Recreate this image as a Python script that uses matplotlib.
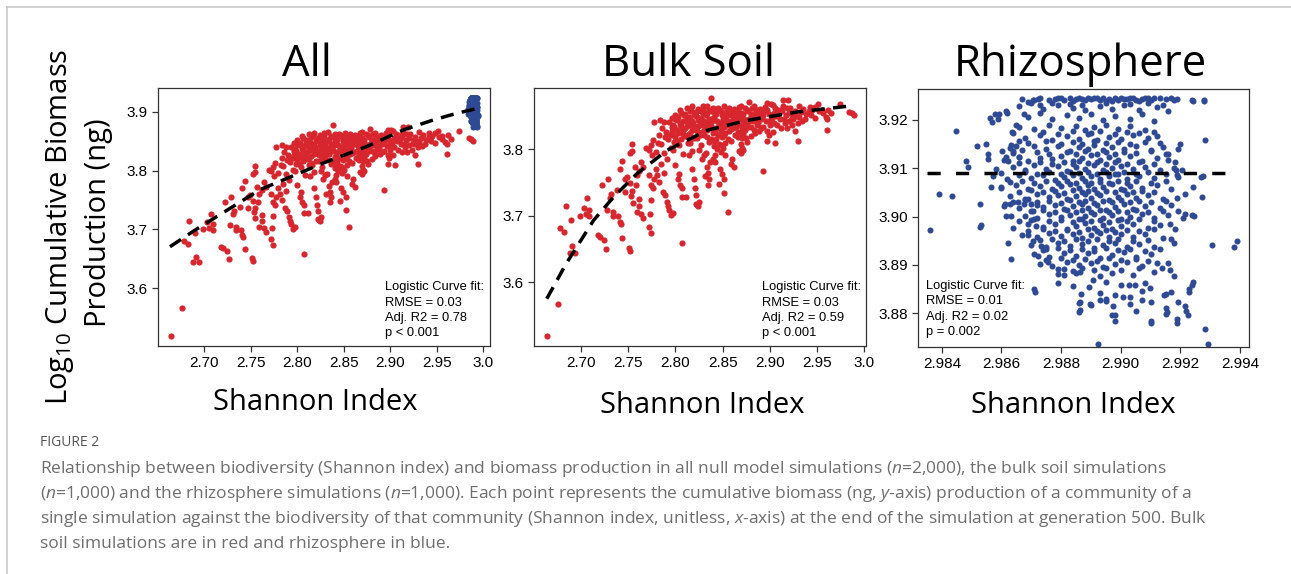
import matplotlib
matplotlib.use('Agg')
from matplotlib import pyplot as plt
from matplotlib.lines import Line2D

W, H = 1291, 574

plt.rcParams['mathtext.fontset'] = 'custom'
plt.rcParams['mathtext.rm'] = 'Open Sans'
plt.rcParams['mathtext.it'] = 'Open Sans:italic'

RED = '#D7262D'
BLUE = '#2E4A94'

# ---- data ----
# bulk soil simulations (Shannon index, log10 cumulative biomass)
bulk_points = [
    (2.664, 3.518), (2.676, 3.567), (2.678, 3.681), (2.682, 3.676), (2.684, 3.715),
    (2.688, 3.644), (2.694, 3.644), (2.691, 3.654), (2.690, 3.694), (2.699, 3.700),
    (2.703, 3.712), (2.707, 3.727), (2.705, 3.702), (2.709, 3.709), (2.709, 3.699),
    (2.718, 3.671), (2.720, 3.668), (2.724, 3.663), (2.722, 3.746), (2.727, 3.650),
    (2.729, 3.756), (2.728, 3.708), (2.732, 3.732), (2.734, 3.705), (2.731, 3.727),
    (2.734, 3.699), (2.739, 3.699), (2.741, 3.691), (2.742, 3.687), (2.738, 3.739),
    (2.744, 3.667), (2.744, 3.782), (2.741, 3.771), (2.747, 3.755), (2.749, 3.758),
    (2.752, 3.749), (2.747, 3.736), (2.753, 3.729), (2.754, 3.737), (2.755, 3.719),
    (2.751, 3.652), (2.752, 3.647), (2.754, 3.808), (2.754, 3.798), (2.752, 3.794),
    (2.757, 3.773), (2.759, 3.761), (2.762, 3.767), (2.758, 3.746), (2.762, 3.725),
    (2.762, 3.715), (2.759, 3.705), (2.764, 3.702), (2.766, 3.696), (2.764, 3.781),
    (2.766, 3.773), (2.769, 3.802), (2.772, 3.799), (2.774, 3.806), (2.772, 3.761),
    (2.774, 3.746), (2.776, 3.741), (2.777, 3.756), (2.774, 3.723), (2.773, 3.703),
    (2.772, 3.683), (2.774, 3.674), (2.775, 3.791), (2.779, 3.796), (2.776, 3.814),
    (2.782, 3.809), (2.779, 3.771), (2.777, 3.841), (2.784, 3.844), (2.786, 3.832),
    (2.788, 3.841), (2.790, 3.826), (2.783, 3.821), (2.781, 3.761), (2.783, 3.751),
    (2.785, 3.778), (2.788, 3.765), (2.791, 3.785), (2.787, 3.736), (2.789, 3.731),
    (2.791, 3.721), (2.792, 3.714), (2.793, 3.709), (2.795, 3.701), (2.797, 3.704),
    (2.796, 3.847), (2.797, 3.837), (2.800, 3.852), (2.798, 3.822), (2.802, 3.812),
    (2.795, 3.802), (2.800, 3.776), (2.803, 3.756), (2.805, 3.746), (2.807, 3.741),
    (2.804, 3.763), (2.807, 3.728), (2.811, 3.728), (2.807, 3.659), (2.807, 3.832),
    (2.811, 3.842), (2.814, 3.849), (2.818, 3.837), (2.812, 3.822), (2.816, 3.809),
    (2.820, 3.817), (2.814, 3.791), (2.818, 3.771), (2.820, 3.756), (2.821, 3.741),
    (2.822, 3.731), (2.823, 3.716), (2.825, 3.721), (2.821, 3.852), (2.825, 3.847),
    (2.829, 3.854), (2.830, 3.837), (2.823, 3.827),
    (2.838, 3.878), (2.829, 3.865), (2.878, 3.871), (2.897, 3.870), (2.901, 3.869),
    (2.914, 3.875), (2.919, 3.875), (2.914, 3.866), (2.931, 3.866), (2.942, 3.864),
    (2.951, 3.868), (2.974, 3.868), (2.984, 3.856), (2.989, 3.851), (2.987, 3.854),
    (2.961, 3.845), (2.961, 3.829), (2.927, 3.827), (2.930, 3.812), (2.905, 3.809),
    (2.897, 3.812), (2.897, 3.827), (2.899, 3.822), (2.893, 3.768), (2.871, 3.802),
    (2.870, 3.794), (2.872, 3.799), (2.867, 3.822), (2.871, 3.817), (2.860, 3.786),
    (2.862, 3.773), (2.859, 3.778), (2.852, 3.734), (2.856, 3.705), (2.850, 3.802),
    (2.842, 3.792), (2.844, 3.800), (2.846, 3.808), (2.843, 3.815), (2.845, 3.822),
    (2.841, 3.805), (2.834, 3.774), (2.835, 3.764), (2.836, 3.756), (2.835, 3.746),
    (2.831, 3.760), (2.822, 3.717), (2.824, 3.714), (2.828, 3.786), (2.825, 3.799),
    (2.832, 3.794), (2.837, 3.781), (2.840, 3.786), (2.842, 3.781), (2.847, 3.770),
    (2.849, 3.763), (2.852, 3.756), (2.846, 3.748),
    (2.927, 3.857), (2.931, 3.849), (2.934, 3.842), (2.924, 3.847), (2.917, 3.852),
    (2.910, 3.854), (2.906, 3.862), (2.903, 3.867), (2.956, 3.854), (2.959, 3.849),
    (2.952, 3.857), (2.945, 3.859), (2.881, 3.862), (2.885, 3.857), (2.888, 3.852),
    (2.892, 3.847), (2.878, 3.842), (2.874, 3.837), (2.871, 3.832), (2.857, 3.862),
    (2.860, 3.857), (2.864, 3.852), (2.853, 3.847), (2.850, 3.842), (2.846, 3.837),
    (2.843, 3.832), (2.867, 3.864),
    (2.812, 3.862), (2.818, 3.865), (2.824, 3.861), (2.833, 3.866), (2.840, 3.863),
    (2.846, 3.860), (2.851, 3.865), (2.862, 3.861), (2.870, 3.866), (2.874, 3.862),
    (2.883, 3.865), (2.890, 3.861), (2.895, 3.864), (2.908, 3.860), (2.921, 3.863),
    (2.935, 3.861), (2.948, 3.864), (2.962, 3.860),
    (2.806, 3.855), (2.815, 3.857), (2.820, 3.853), (2.827, 3.858), (2.834, 3.854),
    (2.838, 3.857), (2.843, 3.853), (2.848, 3.858), (2.853, 3.855), (2.866, 3.857),
    (2.872, 3.853), (2.877, 3.858), (2.890, 3.854), (2.894, 3.857), (2.899, 3.853),
    (2.913, 3.858), (2.920, 3.855), (2.938, 3.853), (2.941, 3.857), (2.965, 3.854),
    (2.803, 3.848), (2.809, 3.851), (2.816, 3.846), (2.822, 3.850), (2.827, 3.847),
    (2.832, 3.851), (2.836, 3.846), (2.841, 3.849), (2.856, 3.851), (2.862, 3.847),
    (2.868, 3.850), (2.873, 3.846), (2.880, 3.849), (2.884, 3.851), (2.902, 3.847),
    (2.907, 3.850), (2.915, 3.846), (2.928, 3.850), (2.948, 3.847),
    (2.793, 3.841), (2.802, 3.844), (2.806, 3.839), (2.813, 3.843), (2.819, 3.840),
    (2.824, 3.844), (2.829, 3.841), (2.834, 3.839), (2.839, 3.843), (2.848, 3.840),
    (2.853, 3.844), (2.858, 3.839), (2.865, 3.842), (2.869, 3.844), (2.876, 3.840),
    (2.882, 3.843), (2.888, 3.839), (2.896, 3.842), (2.904, 3.840), (2.920, 3.843),
    (2.930, 3.840),
    (2.799, 3.834), (2.805, 3.837), (2.810, 3.832), (2.815, 3.836), (2.821, 3.833),
    (2.826, 3.837), (2.833, 3.832), (2.838, 3.835), (2.851, 3.833), (2.855, 3.837),
    (2.861, 3.832), (2.868, 3.836), (2.880, 3.833), (2.886, 3.837), (2.893, 3.834),
    (2.908, 3.836), (2.918, 3.832),
    (2.796, 3.827), (2.803, 3.824), (2.808, 3.829), (2.815, 3.825), (2.819, 3.830),
    (2.828, 3.826), (2.834, 3.829), (2.840, 3.824), (2.848, 3.828), (2.853, 3.825),
    (2.859, 3.830), (2.866, 3.826), (2.874, 3.829), (2.884, 3.825), (2.889, 3.828),
    (2.903, 3.826),
    (2.789, 3.818), (2.794, 3.821), (2.806, 3.816), (2.810, 3.820), (2.823, 3.817),
    (2.830, 3.821), (2.838, 3.815), (2.849, 3.819), (2.856, 3.816), (2.863, 3.821),
    (2.875, 3.817), (2.880, 3.820),
    (2.785, 3.808), (2.799, 3.811), (2.804, 3.806), (2.813, 3.810), (2.827, 3.807),
    (2.836, 3.811), (2.848, 3.806), (2.853, 3.810), (2.870, 3.808), (2.876, 3.811),
    (2.788, 3.795), (2.797, 3.799), (2.808, 3.793), (2.818, 3.797), (2.830, 3.792),
    (2.848, 3.796), (2.853, 3.791), (2.867, 3.797),
    (2.805, 3.859), (2.810, 3.853), (2.817, 3.860), (2.822, 3.856), (2.829, 3.861),
    (2.836, 3.859), (2.841, 3.856), (2.845, 3.862), (2.849, 3.851), (2.855, 3.859),
    (2.859, 3.852), (2.863, 3.858), (2.869, 3.855), (2.876, 3.860), (2.880, 3.853),
    (2.886, 3.859), (2.893, 3.851), (2.897, 3.860), (2.904, 3.855), (2.911, 3.859),
    (2.918, 3.862), (2.925, 3.853), (2.933, 3.856), (2.944, 3.851), (2.955, 3.859),
    (2.800, 3.845), (2.808, 3.843), (2.812, 3.846), (2.818, 3.843), (2.825, 3.845),
    (2.830, 3.843), (2.838, 3.846), (2.844, 3.843), (2.850, 3.846), (2.856, 3.843),
    (2.861, 3.845), (2.867, 3.846), (2.872, 3.843), (2.878, 3.846), (2.886, 3.844),
    (2.891, 3.846), (2.899, 3.843), (2.911, 3.845), (2.916, 3.840), (2.925, 3.845),
    (2.937, 3.846),
    (2.796, 3.834), (2.802, 3.829), (2.812, 3.835), (2.818, 3.829), (2.824, 3.835),
    (2.830, 3.829), (2.836, 3.834), (2.842, 3.828), (2.846, 3.833), (2.857, 3.828),
    (2.864, 3.834), (2.871, 3.828), (2.877, 3.834), (2.883, 3.829), (2.891, 3.832),
    (2.900, 3.836), (2.912, 3.832), (2.923, 3.836),
    (2.792, 3.815), (2.800, 3.819), (2.808, 3.823), (2.815, 3.814), (2.826, 3.822),
    (2.834, 3.818), (2.841, 3.812), (2.852, 3.822), (2.859, 3.813), (2.866, 3.818),
    (2.872, 3.823),
]

# rhizosphere simulations
rhizo_points = [
    (2.9867, 3.9244), (2.9871, 3.9242), (2.9873, 3.9245), (2.9876, 3.9241), (2.9878, 3.9244),
    (2.9880, 3.9245), (2.9881, 3.9242), (2.9883, 3.9245), (2.9885, 3.9243), (2.9886, 3.9245),
    (2.9888, 3.9241), (2.9889, 3.9245), (2.9890, 3.9243), (2.9891, 3.9245), (2.9893, 3.9242),
    (2.9894, 3.9245), (2.9895, 3.9240), (2.9896, 3.9244), (2.9898, 3.9245), (2.9899, 3.9242),
    (2.9900, 3.9245), (2.9902, 3.9243), (2.9904, 3.9245), (2.9905, 3.9241), (2.9907, 3.9244),
    (2.9908, 3.9245), (2.9910, 3.9242), (2.9911, 3.9245), (2.9915, 3.9243), (2.9917, 3.9245),
    (2.9918, 3.9242), (2.9919, 3.9244), (2.9924, 3.9241), (2.9928, 3.9241),
    (2.9879, 3.9246), (2.9884, 3.9240), (2.9887, 3.9244), (2.9892, 3.9246), (2.9897, 3.9240),
    (2.9901, 3.9244), (2.9903, 3.9246), (2.9906, 3.9240), (2.9909, 3.9246), (2.9913, 3.9245),
    (2.9866, 3.9228), (2.9874, 3.9222), (2.9879, 3.9231), (2.9884, 3.9225), (2.9888, 3.9220),
    (2.9893, 3.9229), (2.9897, 3.9223), (2.9901, 3.9230), (2.9906, 3.9221), (2.9912, 3.9227),
    (2.9916, 3.9219), (2.9883, 3.9233), (2.9870, 3.9235),
    (2.9877, 3.9234), (2.9887, 3.9231), (2.9895, 3.9236), (2.9903, 3.9232), (2.9909, 3.9236),
    (2.9914, 3.9231),
    (2.9856, 3.9204), (2.9859, 3.9212), (2.9862, 3.9215), (2.9869, 3.9207), (2.9873, 3.9214),
    (2.9877, 3.9201), (2.9882, 3.9210), (2.9886, 3.9204), (2.9890, 3.9213), (2.9894, 3.9199),
    (2.9898, 3.9209), (2.9903, 3.9202), (2.9907, 3.9212), (2.9911, 3.9198),
    (2.98361, 3.8972), (2.98392, 3.9046), (2.98434, 3.9042), (2.98449, 3.9177), (2.98482, 3.9114),
    (2.98486, 3.9103), (2.98517, 3.9145), (2.98547, 3.9151), (2.98528, 3.9025), (2.98528, 3.8979),
    (2.98555, 3.9130), (2.98555, 3.9120), (2.98566, 3.9062), (2.98580, 3.9099), (2.98579, 3.9212),
    (2.98588, 3.9202), (2.98614, 3.9219), (2.98568, 3.9195), (2.98597, 3.9059), (2.98613, 3.9025),
    (2.98627, 3.9025), (2.98616, 3.9002), (2.98633, 3.9002), (2.98622, 3.8946), (2.98633, 3.8913),
    (2.98602, 3.9136), (2.98615, 3.9124), (2.98621, 3.9114), (2.98632, 3.9148), (2.98638, 3.9135),
    (2.98649, 3.9145), (2.98660, 3.9124), (2.98636, 3.9176), (2.98649, 3.9190), (2.98660, 3.9157),
    (2.98675, 3.9212), (2.98689, 3.9237), (2.98705, 3.9242), (2.98722, 3.9244), (2.98730, 3.9231),
    (2.98655, 3.9030), (2.98677, 3.9026), (2.98689, 3.9037), (2.98705, 3.9012), (2.98720, 3.9023),
    (2.98700, 3.8992), (2.98716, 3.8981), (2.98689, 3.8961), (2.98705, 3.8950), (2.98733, 3.8940),
    (2.98750, 3.8933), (2.98722, 3.8919), (2.98756, 3.8906), (2.98789, 3.8881), (2.98811, 3.8892),
    (2.98839, 3.8888), (2.98862, 3.8885), (2.98711, 3.8844), (2.98709, 3.8850), (2.98867, 3.8840),
    (2.98864, 3.8823), (2.98862, 3.8806),
    (2.99243, 3.9239), (2.99279, 3.9239), (2.99283, 3.9159), (2.99199, 3.9150), (2.99193, 3.9140),
    (2.99159, 3.9130), (2.99182, 3.9112), (2.99185, 3.9097), (2.99204, 3.9097), (2.99191, 3.9081),
    (2.99275, 3.9083), (2.99243, 3.9061), (2.99216, 3.9047), (2.99188, 3.9039), (2.99271, 3.9040),
    (2.99193, 3.9012), (2.99216, 3.9006), (2.99246, 3.9002), (2.99306, 3.8941), (2.99380, 3.8938),
    (2.99389, 3.8949), (2.99165, 3.8985), (2.99182, 3.8975), (2.99170, 3.8954), (2.99179, 3.8945),
    (2.99159, 3.8903), (2.99165, 3.8890), (2.99137, 3.8893), (2.99243, 3.8864), (2.99229, 3.8850),
    (2.99170, 3.8843), (2.99145, 3.8838), (2.99151, 3.8810), (2.99154, 3.8803), (2.99193, 3.8823),
    (2.99216, 3.8815), (2.99227, 3.8797), (2.99188, 3.8788), (2.99283, 3.8767), (2.99294, 3.8737),
    (2.98922, 3.8737), (2.99100, 3.8779), (2.99070, 3.8828), (2.99098, 3.8852), (2.99048, 3.8859),
    (2.99029, 3.8859), (2.99008, 3.8833), (2.99031, 3.8834), (2.98975, 3.8814), (2.98981, 3.8783),
    (2.98970, 3.8797), (2.98951, 3.8829), (2.98931, 3.8828), (2.98897, 3.8819), (2.98892, 3.8855),
    (2.98908, 3.8869),
    (2.9866, 3.9186), (2.9871, 3.9181), (2.9876, 3.9189), (2.9880, 3.9183), (2.9885, 3.9188),
    (2.9888, 3.9179), (2.9891, 3.9185), (2.9895, 3.9190), (2.9899, 3.9182), (2.9903, 3.9187),
    (2.9908, 3.9180),
    (2.9864, 3.9172), (2.9874, 3.9176), (2.9879, 3.9171), (2.9884, 3.9177), (2.9890, 3.9173),
    (2.9893, 3.9177), (2.9898, 3.9171), (2.9902, 3.9176), (2.9906, 3.9172), (2.9911, 3.9176),
    (2.9868, 3.9163), (2.9873, 3.9168), (2.9877, 3.9159), (2.9882, 3.9166), (2.9886, 3.9161),
    (2.9889, 3.9170), (2.9892, 3.9158), (2.9896, 3.9165), (2.9900, 3.9160), (2.9904, 3.9168),
    (2.9909, 3.9162), (2.9912, 3.9167),
    (2.9869, 3.9152), (2.9875, 3.9156), (2.9880, 3.9150), (2.9884, 3.9154), (2.9887, 3.9151),
    (2.9891, 3.9157), (2.9895, 3.9152), (2.9899, 3.9155), (2.9903, 3.9151), (2.9908, 3.9155),
    (2.9913, 3.9153),
    (2.9863, 3.9142), (2.9867, 3.9138), (2.9871, 3.9147), (2.9875, 3.9140), (2.9879, 3.9145),
    (2.9883, 3.9136), (2.9886, 3.9144), (2.9889, 3.9139), (2.9891, 3.9148), (2.9894, 3.9137),
    (2.9897, 3.9143), (2.9901, 3.9140), (2.9905, 3.9146), (2.9910, 3.9138), (2.9914, 3.9144),
    (2.9864, 3.9131), (2.9872, 3.9134), (2.9876, 3.9129), (2.9882, 3.9133), (2.9885, 3.9130),
    (2.9888, 3.9135), (2.9892, 3.9130), (2.9895, 3.9134), (2.9898, 3.9129), (2.9901, 3.9133),
    (2.9905, 3.9131), (2.9910, 3.9135), (2.9915, 3.9130),
    (2.9861, 3.9118), (2.9866, 3.9124), (2.9869, 3.9116), (2.9873, 3.9122), (2.9877, 3.9119),
    (2.9880, 3.9126), (2.9884, 3.9115), (2.9887, 3.9121), (2.9890, 3.9127), (2.9893, 3.9117),
    (2.9896, 3.9123), (2.9899, 3.9118), (2.9903, 3.9125), (2.9907, 3.9116), (2.9912, 3.9122),
    (2.9916, 3.9118),
    (2.9866, 3.9110), (2.9873, 3.9113), (2.9877, 3.9108), (2.9881, 3.9112), (2.9884, 3.9109),
    (2.9886, 3.9114), (2.9889, 3.9110), (2.9892, 3.9113), (2.9895, 3.9108), (2.9898, 3.9112),
    (2.9902, 3.9109), (2.9906, 3.9113), (2.9911, 3.9109),
    (2.9864, 3.9102), (2.9868, 3.9097), (2.9871, 3.9106), (2.9875, 3.9099), (2.9879, 3.9104),
    (2.9882, 3.9095), (2.9885, 3.9103), (2.9888, 3.9098), (2.9891, 3.9107), (2.9894, 3.9096),
    (2.9897, 3.9101), (2.9900, 3.9105), (2.9904, 3.9098), (2.9908, 3.9103), (2.9913, 3.9096),
    (2.9918, 3.9101),
    (2.9860, 3.9090), (2.9868, 3.9093), (2.9872, 3.9089), (2.9876, 3.9092), (2.9880, 3.9088),
    (2.9883, 3.9093), (2.9886, 3.9090), (2.9889, 3.9092), (2.9892, 3.9088), (2.9895, 3.9093),
    (2.9898, 3.9089), (2.9901, 3.9092), (2.9905, 3.9088), (2.9909, 3.9092), (2.9915, 3.9089),
    (2.9857, 3.9083), (2.9862, 3.9078), (2.9866, 3.9086), (2.9870, 3.9080), (2.9874, 3.9085),
    (2.9878, 3.9076), (2.9881, 3.9082), (2.9884, 3.9087), (2.9887, 3.9079), (2.9890, 3.9084),
    (2.9893, 3.9077), (2.9896, 3.9083), (2.9899, 3.9088), (2.9902, 3.9078), (2.9906, 3.9084),
    (2.9911, 3.9079), (2.9919, 3.9086), (2.9927, 3.9081),
    (2.9863, 3.9071), (2.9867, 3.9074), (2.9871, 3.9070), (2.9875, 3.9073), (2.9879, 3.9069),
    (2.9882, 3.9074), (2.9885, 3.9070), (2.9888, 3.9073), (2.9890, 3.9069), (2.9893, 3.9072),
    (2.9896, 3.9070), (2.9899, 3.9074), (2.9902, 3.9070), (2.9905, 3.9073), (2.9910, 3.9070),
    (2.9915, 3.9074),
    (2.9860, 3.9061), (2.9865, 3.9066), (2.9869, 3.9058), (2.9873, 3.9064), (2.9877, 3.9057),
    (2.9880, 3.9063), (2.9883, 3.9068), (2.9886, 3.9059), (2.9889, 3.9065), (2.9891, 3.9056),
    (2.9894, 3.9062), (2.9897, 3.9067), (2.9900, 3.9058), (2.9903, 3.9064), (2.9907, 3.9060),
    (2.9912, 3.9066), (2.9917, 3.9057),
    (2.9866, 3.9051), (2.9870, 3.9054), (2.9874, 3.9050), (2.9878, 3.9053), (2.9881, 3.9049),
    (2.9884, 3.9054), (2.9887, 3.9050), (2.9889, 3.9053), (2.9892, 3.9049), (2.9895, 3.9052),
    (2.9898, 3.9050), (2.9901, 3.9054), (2.9904, 3.9050), (2.9907, 3.9053), (2.9911, 3.9050),
    (2.9863, 3.9043), (2.9868, 3.9037), (2.9872, 3.9046), (2.9876, 3.9040), (2.9879, 3.9045),
    (2.9882, 3.9036), (2.9885, 3.9042), (2.9888, 3.9047), (2.9890, 3.9038), (2.9893, 3.9044),
    (2.9896, 3.9035), (2.9899, 3.9041), (2.9902, 3.9046), (2.9905, 3.9039), (2.9909, 3.9044),
    (2.9914, 3.9037),
    (2.9864, 3.9031), (2.9868, 3.9034), (2.9872, 3.9030), (2.9876, 3.9033), (2.9880, 3.9029),
    (2.9883, 3.9034), (2.9886, 3.9030), (2.9888, 3.9033), (2.9891, 3.9029), (2.9894, 3.9032),
    (2.9897, 3.9030), (2.9900, 3.9034), (2.9903, 3.9030), (2.9906, 3.9033), (2.9910, 3.9030),
    (2.9915, 3.9033),
    (2.9861, 3.9022), (2.9866, 3.9017), (2.9870, 3.9025), (2.9874, 3.9019), (2.9878, 3.9024),
    (2.9881, 3.9015), (2.9884, 3.9021), (2.9887, 3.9026), (2.9889, 3.9017), (2.9892, 3.9023),
    (2.9895, 3.9014), (2.9898, 3.9020), (2.9901, 3.9025), (2.9904, 3.9016), (2.9908, 3.9022),
    (2.9913, 3.9018), (2.9917, 3.9024),
    (2.9870, 3.9011), (2.9874, 3.9014), (2.9878, 3.9010), (2.9882, 3.9013), (2.9885, 3.9009),
    (2.9887, 3.9014), (2.9890, 3.9010), (2.9893, 3.9013), (2.9896, 3.9009), (2.9899, 3.9012),
    (2.9902, 3.9010), (2.9905, 3.9014), (2.9909, 3.9010), (2.9914, 3.9012),
    (2.9868, 3.9002), (2.9872, 3.8996), (2.9876, 3.9005), (2.9880, 3.8999), (2.9883, 3.9004),
    (2.9886, 3.8995), (2.9888, 3.9001), (2.9891, 3.9006), (2.9894, 3.8997), (2.9897, 3.9003),
    (2.9900, 3.8994), (2.9903, 3.9000), (2.9907, 3.9005), (2.9911, 3.8998), (2.9916, 3.9003),
    (2.9921, 3.8996), (2.9924, 3.9004),
    (2.9866, 3.8991), (2.9871, 3.8994), (2.9876, 3.8990), (2.9880, 3.8993), (2.9884, 3.8989),
    (2.9887, 3.8994), (2.9890, 3.8990), (2.9893, 3.8993), (2.9896, 3.8989), (2.9899, 3.8992),
    (2.9902, 3.8990), (2.9906, 3.8994), (2.9911, 3.8990),
    (2.9853, 3.8982), (2.9864, 3.8977), (2.9869, 3.8985), (2.9874, 3.8979), (2.9878, 3.8984),
    (2.9882, 3.8975), (2.9885, 3.8981), (2.9888, 3.8986), (2.9891, 3.8977), (2.9894, 3.8983),
    (2.9897, 3.8974), (2.9900, 3.8980), (2.9904, 3.8985), (2.9909, 3.8976), (2.9913, 3.8982),
    (2.9869, 3.8971), (2.9874, 3.8974), (2.9878, 3.8970), (2.9882, 3.8973), (2.9886, 3.8969),
    (2.9889, 3.8974), (2.9892, 3.8970), (2.9895, 3.8973), (2.9898, 3.8969), (2.9902, 3.8972),
    (2.9906, 3.8970), (2.9911, 3.8974),
    (2.9867, 3.8962), (2.9872, 3.8957), (2.9876, 3.8965), (2.9880, 3.8959), (2.9884, 3.8964),
    (2.9887, 3.8955), (2.9890, 3.8961), (2.9893, 3.8966), (2.9896, 3.8957), (2.9900, 3.8963),
    (2.9904, 3.8958), (2.9908, 3.8964), (2.9914, 3.8956),
    (2.9873, 3.8951), (2.9877, 3.8954), (2.9881, 3.8950), (2.9885, 3.8953), (2.9889, 3.8949),
    (2.9892, 3.8954), (2.9896, 3.8950), (2.9899, 3.8953), (2.9904, 3.8949), (2.9909, 3.8952),
    (2.9870, 3.8942), (2.9875, 3.8937), (2.9879, 3.8945), (2.9883, 3.8939), (2.9887, 3.8944),
    (2.9891, 3.8935), (2.9894, 3.8941), (2.9898, 3.8946), (2.9902, 3.8937), (2.9906, 3.8943),
    (2.9911, 3.8938),
    (2.9874, 3.8931), (2.9879, 3.8934), (2.9883, 3.8930), (2.9887, 3.8933), (2.9891, 3.8929),
    (2.9895, 3.8934), (2.9899, 3.8930), (2.9903, 3.8933), (2.9908, 3.8929), (2.9913, 3.8932),
    (2.9871, 3.8922), (2.9876, 3.8917), (2.9881, 3.8925), (2.9885, 3.8919), (2.9889, 3.8924),
    (2.9893, 3.8915), (2.9897, 3.8921), (2.9901, 3.8926), (2.9905, 3.8917), (2.9910, 3.8923),
    (2.9875, 3.8911), (2.9880, 3.8914), (2.9884, 3.8910), (2.9888, 3.8913), (2.9892, 3.8909),
    (2.9896, 3.8914), (2.9900, 3.8910), (2.9905, 3.8913), (2.9909, 3.8909),
    (2.9873, 3.8902), (2.9877, 3.8897), (2.9882, 3.8905), (2.9886, 3.8899), (2.9890, 3.8904),
    (2.9894, 3.8895), (2.9898, 3.8901), (2.9902, 3.8906), (2.9907, 3.8897), (2.9912, 3.8903),
    (2.9879, 3.8891), (2.9887, 3.8894), (2.9891, 3.8890), (2.9895, 3.8893), (2.9900, 3.8889),
    (2.9906, 3.8893),
    (2.9881, 3.8878), (2.9885, 3.8884), (2.9893, 3.8877), (2.9897, 3.8883), (2.9904, 3.8879),
    (2.9911, 3.8885), (2.9918, 3.8876),
    (2.9879, 3.8862), (2.9884, 3.8857), (2.9895, 3.8864), (2.9900, 3.8858), (2.9908, 3.8863),
    (2.9924, 3.8858),
    (2.9893, 3.8842), (2.9898, 3.8837), (2.9907, 3.8845), (2.9915, 3.8839), (2.9923, 3.8844),
    (2.9886, 3.8822), (2.9890, 3.8817), (2.9895, 3.8825), (2.9903, 3.8819), (2.9910, 3.8824),
    (2.9886, 3.8802), (2.9898, 3.8797), (2.9905, 3.8805), (2.9915, 3.8799), (2.9922, 3.8804),
    (2.9910, 3.8784), (2.9919, 3.8779),
]

# logistic fit curves as drawn
all_fit_x = [2.6631, 2.6882, 2.7599, 2.8279, 2.8746, 2.9140, 2.9462, 2.9714, 2.9946]
all_fit_y = [3.6707, 3.6971, 3.7678, 3.8130, 3.8412, 3.8695, 3.8864, 3.8978, 3.9063]
bulk_fit_x = [2.6639, 2.6844, 2.7134, 2.7346, 2.7594, 2.7913, 2.8338, 2.8762, 2.9293, 2.9824]
bulk_fit_y = [3.5748, 3.6276, 3.6929, 3.7281, 3.7633, 3.7985, 3.8287, 3.8437, 3.8563, 3.8649]
rhizo_fit_x = [2.9835, 2.9935]
rhizo_fit_y = [3.909, 3.909]

titles = ['All', 'Bulk Soil', 'Rhizosphere']
fit_stats = [
    ['Logistic Curve fit:', 'RMSE = 0.03', 'Adj. R2 = 0.78', 'p < 0.001'],
    ['Logistic Curve fit:', 'RMSE = 0.03', 'Adj. R2 = 0.59', 'p < 0.001'],
    ['Logistic Curve fit:', 'RMSE = 0.01', 'Adj. R2 = 0.02', 'p = 0.002'],
]
shannon_ticks = [2.70, 2.75, 2.80, 2.85, 2.90, 2.95, 3.0]
shannon_labels = ['2.70', '2.75', '2.80', '2.85', '2.90', '2.95', '3.0']
rhizo_xticks = [2.984, 2.986, 2.988, 2.990, 2.992, 2.994]
rhizo_xlabels = ['2.984', '2.986', '2.988', '2.990', '2.992', '2.994']
all_yticks = [3.6, 3.7, 3.8, 3.9]
bulk_yticks = [3.6, 3.7, 3.8]
rhizo_yticks = [3.88, 3.89, 3.90, 3.91, 3.92]
rhizo_ylabels = ['3.88', '3.89', '3.90', '3.91', '3.92']

caption = [
    'Relationship between biodiversity (Shannon index) and biomass production in all null model simulations ($n$=2,000), the bulk soil simulations',
    '($n$=1,000) and the rhizosphere simulations ($n$=1,000). Each point represents the cumulative biomass (ng, $y$-axis) production of a community of a',
    'single simulation against the biodiversity of that community (Shannon index, unitless, $x$-axis) at the end of the simulation at generation 500. Bulk',
    'soil simulations are in red and rhizosphere in blue.',
]

bulk_x = [p[0] for p in bulk_points]
bulk_y = [p[1] for p in bulk_points]
rhizo_x = [p[0] for p in rhizo_points]
rhizo_y = [p[1] for p in rhizo_points]


def px_axes(fig, left, top, right, bottom):
    return fig.add_axes([left / W, 1 - bottom / H, (right - left) / W, (bottom - top) / H])


def style_axes(ax):
    for s in ax.spines.values():
        s.set_color('#333333')
        s.set_linewidth(0.9)
    ax.tick_params(direction='out', length=4.5, width=0.9, color='#333333',
                   labelsize=11, pad=3)
    for lab in ax.get_xticklabels() + ax.get_yticklabels():
        lab.set_family('Liberation Sans')


fig = plt.figure(figsize=(W / 100, H / 100), dpi=100)

# thin frame round the figure
fig.add_artist(Line2D([7 / W, 1.0], [1 - 7 / H, 1 - 7 / H], color='#c4c4c4', lw=1.1))
fig.add_artist(Line2D([7 / W, 7 / W], [0, 1 - 7 / H], color='#c4c4c4', lw=1.1))

ax1 = px_axes(fig, 158, 88, 490, 346)
ax2 = px_axes(fig, 534, 88, 866, 346)
ax3 = px_axes(fig, 918, 89, 1249, 347)

ax1.scatter(bulk_x, bulk_y, s=20, color=RED, linewidths=0)
ax1.scatter(rhizo_x, rhizo_y, s=19, color=BLUE, linewidths=0)
ax1.plot(all_fit_x, all_fit_y, color='black', lw=2.5, dashes=(3.8, 2.4))
ax1.set_xlim(2.6502, 3.0071)
ax1.set_ylim(3.5017, 3.9408)
ax1.set_xticks(shannon_ticks, shannon_labels)
ax1.set_yticks(all_yticks, [str(v) for v in all_yticks])

ax2.scatter(bulk_x, bulk_y, s=20, color=RED, linewidths=0)
ax2.plot(bulk_fit_x, bulk_fit_y, color='black', lw=2.5, dashes=(3.8, 2.4))
ax2.set_xlim(2.6504, 3.0018)
ax2.set_ylim(3.5036, 3.8924)
ax2.set_xticks(shannon_ticks, shannon_labels)
ax2.set_yticks(bulk_yticks, [str(v) for v in bulk_yticks])

ax3.scatter(rhizo_x, rhizo_y, s=19, color=BLUE, linewidths=0)
ax3.plot(rhizo_fit_x, rhizo_fit_y, color='black', lw=2.5, dashes=(3.8, 4.4))
ax3.set_xlim(2.9832, 2.9943)
ax3.set_ylim(3.8730, 3.9264)
ax3.set_xticks(rhizo_xticks, rhizo_xlabels)
ax3.set_yticks(rhizo_yticks, rhizo_ylabels)

for ax in (ax1, ax2, ax3):
    style_axes(ax)

# fit statistics
stat_x = [385, 762, 926]
stat_base = [[290, 305.5, 320.5, 336], [290, 305.5, 320.5, 336], [289, 304, 320, 335]]
for lines, sx, bases in zip(fit_stats, stat_x, stat_base):
    for line, by in zip(lines, bases):
        fig.text(sx / W, 1 - by / H, line, fontsize=9.3, family='Liberation Sans',
                 ha='left', va='baseline')

# panel titles and axis labels
title_x = [307, 688, 1080]
for t, tx in zip(titles, title_x):
    fig.text(tx / W, 1 - 76 / H, t, fontsize=31.5, family='Open Sans', ha='center', va='baseline')

xlab_pos = [(315, 410), (702, 413), (1073, 413)]
for lx, ly in xlab_pos:
    fig.text(lx / W, 1 - ly / H, 'Shannon Index', fontsize=21, family='Open Sans',
             ha='center', va='baseline')

fig.text(67 / W, 1 - 226.5 / H, 'Log$_{10}$ Cumulative Biomass', fontsize=21, family='Open Sans',
         rotation=90, rotation_mode='anchor', ha='center', va='baseline')
fig.text(106 / W, 1 - 222.5 / H, 'Production (ng)', fontsize=21, family='Open Sans',
         rotation=90, rotation_mode='anchor', ha='center', va='baseline')

# caption
fig.text(40 / W, 1 - 446 / H, 'FIGURE 2', fontsize=10, family='Open Sans', color='#555555',
         ha='left', va='baseline')
for i, line in enumerate(caption):
    fig.text(40 / W, 1 - (473 + 25 * i) / H, line, fontsize=12.5, family='Open Sans',
             color='#6e6e6e', ha='left', va='baseline')

fig.savefig('out.png', dpi=100)
